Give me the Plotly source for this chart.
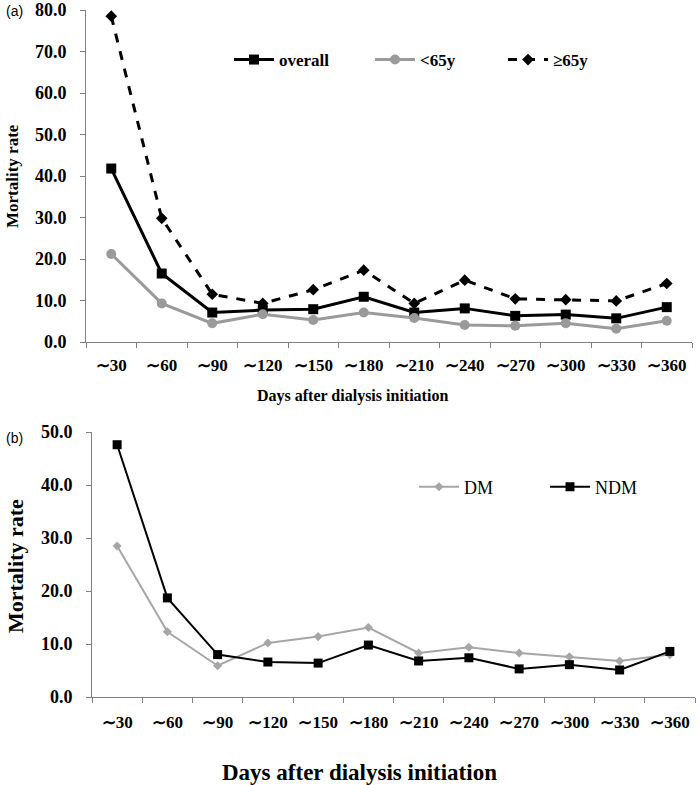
import plotly.graph_objects as go

categories = ["∼30", "∼60", "∼90", "∼120", "∼150", "∼180", "∼210", "∼240", "∼270", "∼300", "∼330", "∼360"]
overall = [41.8, 16.5, 7.1, 7.7, 7.9, 10.9, 7.1, 8.1, 6.3, 6.6, 5.7, 8.4]
under65 = [21.2, 9.3, 4.5, 6.7, 5.3, 7.1, 5.8, 4.1, 3.9, 4.5, 3.2, 5.1]
over65 = [78.5, 29.8, 11.5, 9.3, 12.6, 17.3, 9.3, 14.9, 10.4, 10.2, 9.9, 14.1]
dm = [28.5, 12.3, 5.9, 10.2, 11.4, 13.1, 8.3, 9.4, 8.3, 7.6, 6.8, 8.0]
ndm = [47.6, 18.7, 8.0, 6.6, 6.4, 9.8, 6.8, 7.4, 5.3, 6.1, 5.1, 8.6]

W, H = 700, 785
SERIF = "Liberation Serif"

def px(x): return x / W
def py(y): return 1 - y / H

fig = go.Figure()
fig.add_trace(go.Scatter(x=categories, y=overall, name="overall", mode="lines+markers",
                         line=dict(color="black", width=3), marker=dict(symbol="square", size=10, color="black"),
                         xaxis="x", yaxis="y", legend="legend"))
fig.add_trace(go.Scatter(x=categories, y=under65, name="<65y", mode="lines+markers",
                         line=dict(color="#9a9a9a", width=3), marker=dict(symbol="circle", size=10, color="#9a9a9a"),
                         xaxis="x", yaxis="y", legend="legend2"))
fig.add_trace(go.Scatter(x=categories, y=over65, name="≥65y", mode="lines+markers",
                         line=dict(color="black", width=3, dash="dash"), marker=dict(symbol="diamond", size=9, color="black"),
                         xaxis="x", yaxis="y", legend="legend3"))
fig.add_trace(go.Scatter(x=categories, y=dm, name="DM", mode="lines+markers",
                         line=dict(color="#a6a6a6", width=2), marker=dict(symbol="diamond", size=7, color="#a6a6a6"),
                         xaxis="x2", yaxis="y2", legend="legend4"))
fig.add_trace(go.Scatter(x=categories, y=ndm, name="NDM", mode="lines+markers",
                         line=dict(color="black", width=2), marker=dict(symbol="square", size=9, color="black"),
                         xaxis="x2", yaxis="y2", legend="legend5"))

def axis_common(size=18):
    return dict(showgrid=False, zeroline=False, showline=True, linecolor="#808080", linewidth=1,
                ticks="outside", tickcolor="#808080", ticklen=5, automargin=False,
                tickfont=dict(family=SERIF, size=size, color="black", weight="bold"))

def leg(x, y, size, bold):
    f = dict(family=SERIF, size=size, color="black")
    if bold:
        f["weight"] = "bold"
    return dict(x=px(x), y=py(y), xanchor="left", yanchor="middle", font=f,
                bgcolor="rgba(0,0,0,0)", itemwidth=40, tracegroupgap=0)

fig.update_layout(
    width=W, height=H, margin=dict(l=0, r=0, t=0, b=0, autoexpand=False),
    paper_bgcolor="white", plot_bgcolor="white",
    xaxis=dict(domain=[px(86), px(692)], anchor="y", type="category", tickson="boundaries",
               range=[-0.5, 11.5], ticklabelstandoff=8, tickangle=0, **axis_common(17)),
    yaxis=dict(domain=[py(342), py(10)], anchor="x", range=[0, 80], dtick=10, tickformat=".1f",
               ticklabelstandoff=10, **axis_common()),
    xaxis2=dict(domain=[px(92), px(695)], anchor="y2", type="category", tickson="boundaries",
                range=[-0.5, 11.5], ticklabelstandoff=10, tickangle=0, **axis_common(17)),
    yaxis2=dict(domain=[py(697), py(432)], anchor="x2", range=[0, 50], dtick=10, tickformat=".1f",
                ticklabelstandoff=10, **axis_common()),
    legend=leg(229, 60, 17, True),
    legend2=leg(370, 60, 17, True),
    legend3=leg(503, 60, 17, True),
    legend4=leg(414, 487, 18, False),
    legend5=leg(545, 487, 18, False),
    showlegend=True,
)

annotations = [
    dict(text="(a)", x=px(4), y=py(11), xanchor="left", yanchor="middle",
         font=dict(family="Liberation Sans", size=14, color="black")),
    dict(text="(b)", x=px(4), y=py(438), xanchor="left", yanchor="middle",
         font=dict(family="Liberation Sans", size=14, color="black")),
    dict(text="Mortality rate", x=px(13), y=py(176), textangle=-90, xanchor="center", yanchor="middle",
         font=dict(family=SERIF, size=17, color="black", weight="bold")),
    dict(text="Days after dialysis initiation", x=px(352), y=py(396), xanchor="center", yanchor="middle",
         font=dict(family=SERIF, size=16, color="black", weight="bold")),
    dict(text="Mortality rate", x=px(15), y=py(566), textangle=-90, xanchor="center", yanchor="middle",
         font=dict(family=SERIF, size=22, color="black", weight="bold")),
    dict(text="Days after dialysis initiation", x=px(360), y=py(772), xanchor="center", yanchor="middle",
         font=dict(family=SERIF, size=23, color="black", weight="bold")),
]
for a in annotations:
    a.update(xref="paper", yref="paper", showarrow=False)
fig.update_layout(annotations=annotations)

fig.write_html("out.html", config={"displayModeBar": False},
               post_script="document.body.style.margin='0';document.body.style.padding='0';")
